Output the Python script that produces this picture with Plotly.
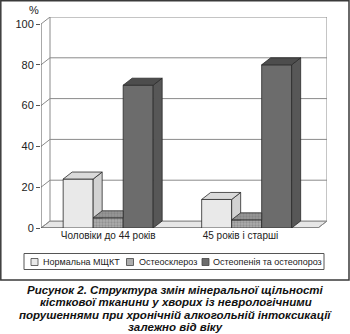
import plotly.graph_objects as go

# ---- data -------------------------------------------------------------
categories = ["Чоловіки до 44 років", "45 років і старші"]
series_names = ["Нормальна МЩКТ", "Остеосклероз", "Остеопенія та остеопороз"]
normal_bmd = [24, 14]
osteosclerosis = [5, 4]
osteopenia = [70, 80]
y_ticks = [0, 20, 40, 60, 80, 100]
caption_lines = [
    "Рисунок 2. Структура змін мінеральної щільності",
    "кісткової тканини у хворих із неврологічними",
    "порушеннями при хронічній алкогольній інтоксикації",
    "залежно від віку",
]

series_values = [normal_bmd, osteosclerosis, osteopenia]

# ---- geometry of the pseudo-3D frame ------------------------------------
W, H = 350, 334
ML, MR, MT, MB = 41, 23, 17, 106
PW = W - ML - MR
PH = H - MT - MB
DEPTH_PX_X, DEPTH_PX_Y = 9, 7
DX = 2 * DEPTH_PX_X / (PW - DEPTH_PX_X)          # depth in x units
DY = 100 * DEPTH_PX_Y / (PH - DEPTH_PX_Y)        # depth in y units
XMAX, YMAX = 2 + DX, 100 + DY
BAR_W = 30 * XMAX / PW
GROUP_SHIFT = -0.015

FONT = "Liberation Sans, Arial, sans-serif"
EDGE = "#2a2a2a"
WALL_LINE = "#8a8a8a"

front_cols = ["#e9e9e9", "#adadad", "#6c6c6c"]
side_cols = ["#d2d2d2", "#8e8e8e", "#575757"]
top_cols = ["#dadada", "#979797", "#4d4d4d"]
dots = dict(shape=".", fgcolor="#767676", size=3, solidity=0.45)


def px_x(px):
    return (px - ML) / PW


def px_y(py):
    return (H - MB - py) / PH


def clip(poly, inside, cross):
    """Sutherland-Hodgman clip of a polygon against one half-plane."""
    out = []
    n = len(poly)
    for i in range(n):
        p, q = poly[i], poly[(i + 1) % n]
        pin, qin = inside(p), inside(q)
        if pin:
            out.append(p)
        if pin != qin:
            out.append(cross(p, q))
    return out


def above(b):
    return (lambda p: p[1] >= b,
            lambda p, q: (p[0] + (q[0] - p[0]) * (b - p[1]) / (q[1] - p[1]), b))


def left_of(a):
    return (lambda p: p[0] <= a,
            lambda p, q: (a, p[1] + (q[1] - p[1]) * (a - p[0]) / (q[0] - p[0])))


fig = go.Figure()
cat_pos = [0.5, 1.5]
label_pos = [0.485, 1.44]
offsets = [-BAR_W, 0.0, BAR_W]

# front faces of the columns
for s, (name, vals) in enumerate(zip(series_names, series_values)):
    xs = [c + GROUP_SHIFT + offsets[s] for c in cat_pos]
    marker = dict(color=front_cols[s], line=dict(color=EDGE, width=0.8))
    if s == 1:
        marker["pattern"] = dict(bgcolor=front_cols[s], **dots)
    fig.add_trace(go.Bar(x=xs, y=vals, width=BAR_W, name=name, marker=marker,
                         showlegend=False, hoverinfo="skip"))


def add_poly(pts, fill, patterned):
    if len(pts) < 3:
        return
    xs = [p[0] for p in pts] + [pts[0][0]]
    ys = [p[1] for p in pts] + [pts[0][1]]
    kw = dict(fillpattern=dict(bgcolor=fill, **dots)) if patterned else {}
    fig.add_trace(go.Scatter(x=xs, y=ys, mode="lines", fill="toself",
                             fillcolor=fill, line=dict(color=EDGE, width=0.8),
                             showlegend=False, hoverinfo="skip", **kw))


# side and top faces, left to right, hidden parts removed
for g, c in enumerate(cat_pos):
    for s in range(3):
        v = series_values[s][g]
        xl = c + GROUP_SHIFT + offsets[s] - BAR_W / 2
        xr = xl + BAR_W
        side = [(xr, 0), (xr + DX, DY), (xr + DX, v + DY), (xr, v)]
        top = [(xl, v), (xr, v), (xr + DX, v + DY), (xl + DX, v + DY)]
        side_parts, top_parts = [side], [top]
        if s < 2:
            vn = series_values[s + 1][g]
            side_parts = [clip(side, *above(vn))]
            if vn > v:
                top_parts = [clip(top, *left_of(xr)), clip(top, *above(vn))]
        for part in side_parts:
            add_poly(part, side_cols[s], s == 1)
        for part in top_parts:
            add_poly(part, top_cols[s], s == 1)

# ---- walls, floor and gridlines --------------------------------------
shapes = []


def seg(x0, y0, x1, y1, color=WALL_LINE, width=1):
    shapes.append(dict(type="line", x0=x0, y0=y0, x1=x1, y1=y1, xref="x", yref="y",
                       line=dict(color=color, width=width), layer="below"))


shapes.append(dict(type="path", xref="x", yref="y", layer="below",
                   path=f"M0,0 L2,0 L{2 + DX},{DY} L{DX},{DY} Z",
                   fillcolor="#e6e6e6", line=dict(color=WALL_LINE, width=1)))
shapes.append(dict(type="rect", xref="x", yref="y", layer="below",
                   x0=DX, y0=DY, x1=2 + DX, y1=100 + DY,
                   fillcolor="white", line=dict(color=WALL_LINE, width=1)))
for t in y_ticks[1:-1]:
    seg(DX, t + DY, 2 + DX, t + DY)
    seg(0, t, DX, t + DY)
seg(0, 100, DX, 100 + DY)
seg(0, 0, DX, DY)
seg(0, 0, 0, 100, color="#555555")
seg(0, 0, 2, 0, color="#555555")
seg(2, 0, 2 + DX, DY)

# outer frame of the chart box
shapes.append(dict(type="rect", xref="paper", yref="paper",
                   x0=px_x(0.8), y0=px_y(280), x1=px_x(349), y1=px_y(0.8),
                   line=dict(color="#3a3a3a", width=1.5), layer="below"))

# legend box and swatches
shapes.append(dict(type="rect", xref="paper", yref="paper",
                   x0=px_x(24), y0=px_y(269.5), x1=px_x(324), y1=px_y(253.5),
                   line=dict(color="#555555", width=1), fillcolor="white"))
legend_items = [(31, 41), (126.5, 137), (202, 211)]
annotations = []
for s, (sx, tx) in enumerate(legend_items):
    shapes.append(dict(type="rect", xref="paper", yref="paper",
                       x0=px_x(sx), y0=px_y(265.5), x1=px_x(sx + 7), y1=px_y(258.5),
                       fillcolor=front_cols[s], line=dict(color="#444444", width=0.8)))
    annotations.append(dict(text=series_names[s], xref="paper", yref="paper",
                            x=px_x(tx), y=px_y(262), xanchor="left", yanchor="middle",
                            showarrow=False, font=dict(family=FONT, size=9, color="#222222")))

annotations.append(dict(text="%", xref="paper", yref="paper", x=px_x(34), y=px_y(10),
                        xanchor="center", yanchor="middle", showarrow=False,
                        font=dict(family=FONT, size=11, color="#222222")))

for line, ly in zip(caption_lines, [289.5, 302, 314.5, 326.5]):
    annotations.append(dict(text=f"<b><i>{line}</i></b>", xref="paper", yref="paper",
                            x=px_x(175.5), y=px_y(ly), xanchor="center", yanchor="middle",
                            showarrow=False, borderpad=0,
                            font=dict(family=FONT, size=11.5, color="#111111")))

fig.update_layout(
    width=W, height=H,
    margin=dict(l=ML, r=MR, t=MT, b=MB, pad=0),
    paper_bgcolor="white", plot_bgcolor="white",
    barmode="overlay",
    shapes=shapes, annotations=annotations,
    showlegend=False,
    font=dict(family=FONT, color="#222222"),
    xaxis=dict(range=[0, XMAX], showgrid=False, zeroline=False, showline=False,
               tickmode="array", tickvals=label_pos, ticktext=categories,
               ticks="", tickfont=dict(size=10, family=FONT, color="#222222"),
               fixedrange=True),
    yaxis=dict(range=[0, YMAX], showgrid=False, zeroline=False, showline=False,
               tickmode="array", tickvals=y_ticks, ticks="outside", ticklen=4,
               tickcolor="#555555", tickwidth=1,
               tickfont=dict(size=11, family=FONT, color="#222222"),
               fixedrange=True),
)

fig.write_html("out.html", config={"displayModeBar": False})
